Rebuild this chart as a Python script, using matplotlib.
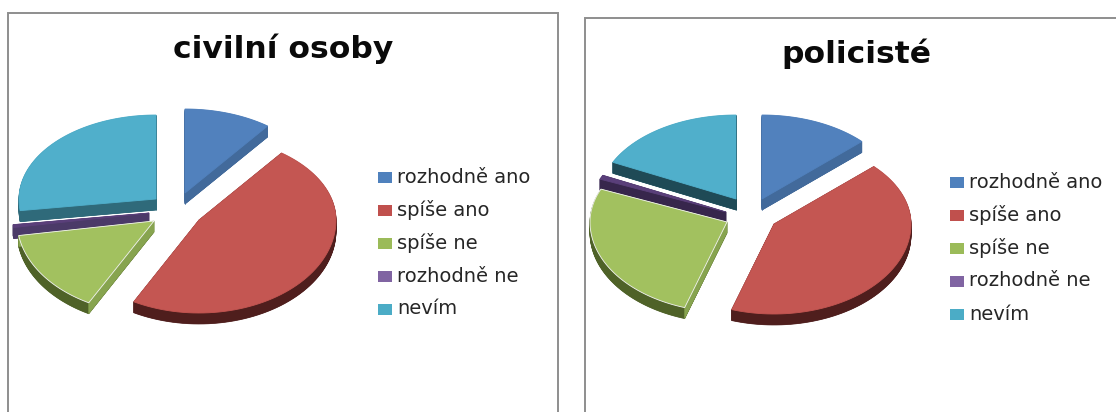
import numpy as np
import matplotlib
matplotlib.use("Agg")
import matplotlib.pyplot as plt
from matplotlib.patches import Polygon, Rectangle

categories = ["rozhodně ano", "spíše ano", "spíše ne", "rozhodně ne", "nevím"]
civilni = [10.3, 47.6, 14.6, 0.5, 27.0]
policiste = [13.0, 42.0, 26.4, 0.8, 17.8]

top_colors = ["#5181BD", "#C45652", "#A2C15F", "#5A3F7A", "#50AFCB"]
arc_colors = ["#426A9B", "#4F1E1D", "#4F6228", "#4B3A68", "#2F6A7A"]
cut_colors = ["#426A9B", "#4F1E1D", "#87A44F", "#4B3A68", "#2F6A7A"]
legend_colors = ["#4F81BD", "#C0504D", "#9BBB59", "#8064A2", "#4BACC6"]

W, H = 1116, 412
fig = plt.figure(figsize=(W / 100, H / 100), dpi=100, facecolor="white")
ax = fig.add_axes([0, 0, 1, 1])
ax.set_xlim(0, W)
ax.set_ylim(H, 0)
ax.axis("off")
FONT = ["DejaVu Sans"]


def outline(t, rx, ry_top, ry_bot):
    ry = np.where(np.cos(t) > 0, ry_top, ry_bot)
    return rx * np.sin(t), -ry * np.cos(t)


def pie(values, apexes, rx, ry_top, ry_bot, depth, cuts):
    edges = np.radians(np.cumsum([0] + list(values)) * 3.6)
    for i in [3, 4, 0, 2, 1]:
        ax0, ay0 = apexes[i]
        t = np.linspace(edges[i], edges[i + 1], 80)
        dx, dy = outline(t, rx, ry_top, ry_bot)
        xs = np.r_[ax0, ax0 + dx]
        ys = np.r_[ay0, ay0 + dy]
        for d in np.linspace(depth, 0.5, 24):
            ax.add_patch(Polygon(np.c_[xs, ys + d], closed=True, fc=arc_colors[i], ec=arc_colors[i], lw=0.5))
        for k in (1, len(xs) - 1):
            ax.add_patch(Polygon([(xs[0], ys[0]), (xs[k], ys[k]), (xs[k], ys[k] + depth), (xs[0], ys[0] + depth)],
                                 closed=True, fc=cuts[i], ec=cuts[i], lw=0.4))
        ec = "#F4F4F4" if i == 2 else top_colors[i]
        ax.add_patch(Polygon(np.c_[xs, ys], closed=True, fc=top_colors[i], ec=ec, lw=0.6))


def panel(title, tx, ty, values, apexes, ry_top, ry_bot, frame, lx, ly, cuts):
    x0, y0, x1 = frame
    ax.plot([x0, x0, x1, x1], [H, y0, y0, H], color="#8E8E8E", lw=1.4, solid_joinstyle="miter")
    ax.text(tx, ty, title, ha="center", va="center", fontsize=22.6, fontweight="bold", family=FONT, color="#0A0A0A")
    pie(values, apexes, 137, ry_top, ry_bot, 11, cuts)
    for i, c in enumerate(categories):
        y = ly + i * 33
        ax.add_patch(Rectangle((lx, y - 5), 14, 10.5, fc=legend_colors[i], ec="none"))
        ax.text(lx + 19, y, c, ha="left", va="center", fontsize=14, family=FONT, color="#262626")


cuts_left = cut_colors
cuts_right = ["#426A9B", "#4F1E1D", "#87A44F", "#37264C", "#1F4A56"]
panel("civilní osoby", 283, 49, civilni,
      [(185, 193), (199, 220), (154, 221), (149, 213), (156, 199)], 84, 93,
      (8, 13, 558), 378, 177, cuts_left)
panel("policisté", 856, 54, policiste,
      [(762, 199), (774, 224), (727, 222), (726, 212), (736, 199)], 84, 90,
      (585, 18, 1122), 950, 182, cuts_right)

fig.savefig("out.png", dpi=100)
